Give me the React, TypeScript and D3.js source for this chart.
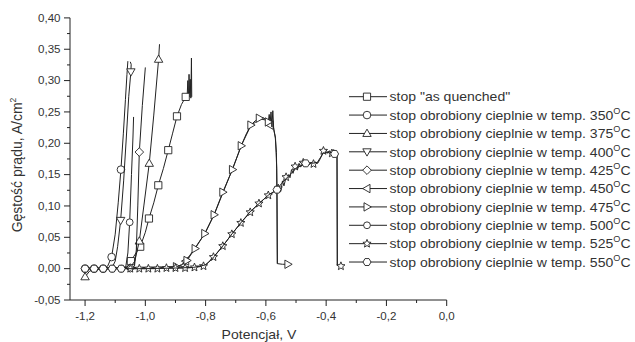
import React from 'react';
import * as d3 from 'd3';

type P = [number, number, number]; // potential (V), current (A/cm2), marker flag

const asQuenched: P[] = [
  [-1.2, 0, 0], [-1.14, 0, 0], [-1.08, 0.001, 0], [-1.06, 0.003, 0], [-1.048, 0.012, 1], [-1.035, 0.022, 0],
  [-1.017, 0.035, 1], [-1.0, 0.058, 0], [-0.988, 0.08, 1], [-0.972, 0.105, 0], [-0.957, 0.133, 1], [-0.94, 0.16, 0],
  [-0.924, 0.189, 1], [-0.91, 0.215, 0], [-0.895, 0.243, 1], [-0.88, 0.262, 0], [-0.866, 0.274, 1], [-0.861, 0.278, 0],
  [-0.859, 0.3, 0], [-0.857, 0.27, 0], [-0.855, 0.31, 0], [-0.853, 0.274, 0], [-0.851, 0.302, 0], [-0.849, 0.272, 0],
  [-0.847, 0.336, 0], [-0.846, 0.274, 0],
];
const t350: P[] = [
  [-1.2, 0, 1], [-1.17, 0, 1], [-1.14, 0, 1], [-1.125, 0.004, 0], [-1.112, 0.0185, 1], [-1.1, 0.055, 0],
  [-1.09, 0.105, 0], [-1.081, 0.158, 1], [-1.073, 0.215, 0], [-1.066, 0.27, 0], [-1.061, 0.31, 0], [-1.058, 0.331, 0],
];
const t375: P[] = [
  [-1.2, -0.013, 1], [-1.185, -0.004, 0], [-1.17, -0.001, 0], [-1.1, 0, 0], [-1.05, 0.002, 0], [-1.035, 0.012, 0],
  [-1.02, 0.044, 1], [-1.005, 0.1, 0], [-0.987, 0.168, 1], [-0.972, 0.245, 0], [-0.956, 0.334, 1], [-0.953, 0.358, 0],
];
const t400: P[] = [
  [-1.2, 0, 0], [-1.14, 0, 0], [-1.11, 0.002, 0], [-1.1, 0.012, 0], [-1.092, 0.035, 0], [-1.082, 0.077, 1],
  [-1.072, 0.14, 0], [-1.063, 0.21, 0], [-1.055, 0.275, 0], [-1.048, 0.314, 1], [-1.047, 0.326, 0], [-1.05, 0.33, 0],
];
const t425: P[] = [
  [-1.2, 0, 0], [-1.1, 0, 0], [-1.05, 0.001, 1], [-1.036, 0.004, 0], [-1.03, 0.03, 0], [-1.025, 0.1, 0],
  [-1.02, 0.186, 1], [-1.01, 0.26, 0], [-1.0, 0.321, 0],
];
const t450: P[] = [
  [-1.2, 0.001, 0], [-1.0, 0.002, 0], [-0.9, 0.003, 0], [-0.88, 0.006, 0], [-0.866, 0.012, 1], [-0.835, 0.033, 0],
  [-0.8, 0.058, 0], [-0.77, 0.088, 0], [-0.74, 0.124, 0], [-0.71, 0.16, 0], [-0.68, 0.198, 0], [-0.65, 0.228, 0],
  [-0.62, 0.239, 0], [-0.6, 0.237, 0], [-0.586, 0.229, 1], [-0.575, 0.226, 0], [-0.568, 0.208, 0], [-0.564, 0.16, 0],
  [-0.562, 0.008, 0],
];
const t475: P[] = [
  [-1.2, 0.001, 0], [-1.1, 0.001, 0], [-1.0, 0.002, 0], [-0.93, 0.002, 0], [-0.897, 0.003, 1], [-0.88, 0.006, 0],
  [-0.862, 0.013, 1], [-0.835, 0.032, 1], [-0.803, 0.056, 1], [-0.772, 0.086, 1], [-0.743, 0.122, 1], [-0.711, 0.158, 1],
  [-0.682, 0.196, 1], [-0.665, 0.215, 0], [-0.65, 0.229, 1], [-0.635, 0.236, 0], [-0.622, 0.24, 1], [-0.61, 0.241, 0],
  [-0.6, 0.238, 0], [-0.592, 0.234, 1], [-0.589, 0.246, 0], [-0.586, 0.232, 0], [-0.583, 0.25, 0], [-0.58, 0.226, 0],
  [-0.577, 0.252, 0], [-0.574, 0.222, 0], [-0.569, 0.21, 0], [-0.565, 0.185, 0], [-0.563, 0.12, 0], [-0.562, 0.008, 0],
  [-0.545, 0.007, 0], [-0.527, 0.007, 1],
];
const t500: P[] = [
  [-1.2, 0, 0], [-1.11, 0, 1], [-1.08, 0, 1], [-1.065, 0.003, 0], [-1.058, 0.025, 0], [-1.052, 0.074, 1],
  [-1.046, 0.15, 0], [-1.041, 0.21, 0], [-1.039, 0.242, 0],
];
const t525: P[] = [
  [-1.2, 0, 0], [-1.05, 0, 1], [-1.02, 0, 1], [-0.99, 0, 1], [-0.96, 0, 1], [-0.93, 0.001, 1], [-0.9, 0.001, 1],
  [-0.868, 0.001, 1], [-0.837, 0.002, 1], [-0.807, 0.004, 1], [-0.79, 0.01, 0], [-0.774, 0.0185, 1], [-0.743, 0.036, 1],
  [-0.713, 0.055, 1], [-0.683, 0.073, 1], [-0.652, 0.09, 1], [-0.623, 0.104, 1], [-0.592, 0.117, 1], [-0.575, 0.122, 0],
  [-0.559, 0.128, 1], [-0.55, 0.124, 0], [-0.545, 0.14, 0], [-0.54, 0.132, 0], [-0.533, 0.146, 1], [-0.525, 0.15, 0],
  [-0.52, 0.145, 0], [-0.515, 0.158, 0], [-0.51, 0.152, 0], [-0.503, 0.163, 1], [-0.495, 0.158, 0], [-0.49, 0.168, 0],
  [-0.485, 0.162, 0], [-0.476, 0.169, 1], [-0.47, 0.165, 0], [-0.462, 0.172, 0], [-0.455, 0.166, 0], [-0.448, 0.17, 0],
  [-0.442, 0.167, 1], [-0.435, 0.17, 0], [-0.428, 0.168, 0], [-0.42, 0.175, 0], [-0.415, 0.18, 0], [-0.409, 0.188, 1],
  [-0.4, 0.19, 0], [-0.395, 0.184, 0], [-0.39, 0.188, 0], [-0.381, 0.184, 1], [-0.375, 0.19, 0], [-0.37, 0.185, 0],
  [-0.366, 0.188, 0], [-0.364, 0.18, 0], [-0.363, 0.005, 0], [-0.351, 0.004, 1],
];
const t550: P[] = [
  [-1.2, 0, 1], [-1.17, 0, 1], [-1.14, 0, 1], [-1.11, 0, 1], [-1.08, 0, 1], [-1.0, 0, 0], [-0.9, 0.001, 0],
  [-0.84, 0.002, 0], [-0.8, 0.006, 0], [-0.77, 0.02, 0], [-0.74, 0.038, 0], [-0.71, 0.057, 0], [-0.68, 0.075, 0],
  [-0.65, 0.092, 0], [-0.62, 0.105, 0], [-0.59, 0.118, 0], [-0.563, 0.126, 1], [-0.548, 0.136, 0], [-0.52, 0.15, 0],
  [-0.5, 0.16, 0], [-0.468, 0.168, 1], [-0.45, 0.168, 0], [-0.43, 0.169, 0], [-0.41, 0.184, 0], [-0.39, 0.186, 0],
  [-0.372, 0.183, 1], [-0.364, 0.182, 0], [-0.363, 0.005, 0],
];

const seriesData: P[][] = [asQuenched, t350, t375, t400, t425, t450, t475, t500, t525, t550];
const seriesShapes = ['square', 'circle', 'triUp', 'triDown', 'diamond', 'triLeft', 'triRight', 'circleSmall', 'star', 'hexagon'];
const legendTemps = ['', '350', '375', '400', '425', '450', '475', '500', '525', '550'];

const xTicks = [-1.2, -1.0, -0.8, -0.6, -0.4, -0.2, 0.0];
const xMinor = [-1.1, -0.9, -0.7, -0.5, -0.3, -0.1];
const yTicks = [-0.05, 0.0, 0.05, 0.1, 0.15, 0.2, 0.25, 0.3, 0.35, 0.4];
const yMinor = [-0.025, 0.025, 0.075, 0.125, 0.175, 0.225, 0.275, 0.325, 0.375];

const FONT = '"Liberation Sans", Arial, Helvetica, sans-serif';
const INK = '#222';
const TXT = '#333';
const SX = 1.1;

function markerPath(shape: string): string {
  const p = d3.path();
  switch (shape) {
    case 'square':
      p.rect(-3.6, -3.6, 7.2, 7.2);
      break;
    case 'circle':
      p.arc(0, 0, 3.8, 0, 2 * Math.PI);
      break;
    case 'circleSmall':
      p.arc(0, 0, 3.4, 0, 2 * Math.PI);
      break;
    case 'triUp':
      p.moveTo(0, -4.3); p.lineTo(4.2, 3); p.lineTo(-4.2, 3); p.closePath();
      break;
    case 'triDown':
      p.moveTo(0, 4.3); p.lineTo(4.2, -3); p.lineTo(-4.2, -3); p.closePath();
      break;
    case 'triLeft':
      p.moveTo(-4.3, 0); p.lineTo(3, -4.2); p.lineTo(3, 4.2); p.closePath();
      break;
    case 'triRight':
      p.moveTo(4.3, 0); p.lineTo(-3, -4.2); p.lineTo(-3, 4.2); p.closePath();
      break;
    case 'diamond':
      p.moveTo(0, -4.3); p.lineTo(4.3, 0); p.lineTo(0, 4.3); p.lineTo(-4.3, 0); p.closePath();
      break;
    case 'hexagon':
      for (let i = 0; i < 6; i++) {
        const a = (Math.PI / 3) * i;
        const x = 4 * Math.cos(a), y = 4 * Math.sin(a);
        if (i === 0) p.moveTo(x, y); else p.lineTo(x, y);
      }
      p.closePath();
      break;
    case 'star':
      for (let i = 0; i < 10; i++) {
        const a = -Math.PI / 2 + (Math.PI / 5) * i;
        const r = i % 2 === 0 ? 4.3 : 1.9;
        const x = r * Math.cos(a), y = r * Math.sin(a);
        if (i === 0) p.moveTo(x, y); else p.lineTo(x, y);
      }
      p.closePath();
      break;
  }
  return p.toString();
}

const fmt = (v: number, d: number) => v.toFixed(d).replace('.', ',').replace('-0,00', '0,00');

export default function App() {
  const W = 635, H = 342;
  const x = d3.scaleLinear().domain([-1.25, 0]).range([70, 446.7]);
  const y = d3.scaleLinear().domain([-0.05, 0.4]).range([300, 17.9]);
  const line = d3.line<P>().x(d => x(d[0])).y(d => y(d[1]));

  const legendY0 = 96.7, legendStep = 18.37;

  return (
    <svg width={W} height={H} style={{ position: 'absolute', left: 0, top: 0, background: '#fff' }}
      fontFamily={FONT}>
      <rect width={W} height={H} fill="#fff" />
      {/* axes */}
      <line x1={70} x2={70} y1={y(0.4)} y2={300} stroke={INK} strokeWidth={1} />
      <line x1={70} x2={x(0)} y1={300} y2={300} stroke={INK} strokeWidth={1} />
      {yTicks.map(t => (
        <g key={'yt' + t}>
          <line x1={64} x2={70} y1={y(t)} y2={y(t)} stroke={INK} />
          <text transform={`translate(60.5,${y(t) + 3.7}) scale(${SX},1)`} textAnchor="end" fontSize={10.5} fill={TXT}>{fmt(t, 2)}</text>
        </g>
      ))}
      {yMinor.map(t => <line key={'ym' + t} x1={67} x2={70} y1={y(t)} y2={y(t)} stroke={INK} />)}
      {xTicks.map(t => (
        <g key={'xt' + t}>
          <line x1={x(t)} x2={x(t)} y1={300} y2={306} stroke={INK} />
          <text transform={`translate(${x(t)},319.5) scale(${SX},1)`} textAnchor="middle" fontSize={10.5} fill={TXT}>{fmt(t, 1)}</text>
        </g>
      ))}
      {xMinor.map(t => <line key={'xm' + t} x1={x(t)} x2={x(t)} y1={300} y2={303} stroke={INK} />)}
      {/* axis titles */}
      <text transform={`translate(259,339) scale(1.08,1)`} textAnchor="middle" fontSize={13} fill={TXT}>Potencjał, V</text>
      <text transform="translate(22,165) rotate(-90)" textAnchor="middle" fontSize={14} fill={TXT}>
        Gęstość prądu, A/cm<tspan fontSize={8.5} dy={-6}>2</tspan>
      </text>
      {/* series */}
      {seriesData.map((data, i) => (
        <g key={'s' + i}>
          <path d={line(data) || ''} fill="none" stroke={INK} strokeWidth={1} strokeLinejoin="round" />
          {data.filter(d => d[2] === 1).map((d, j) => (
            <path key={j} d={markerPath(seriesShapes[i])} transform={`translate(${x(d[0])},${y(d[1])})`}
              fill="#fff" stroke={INK} strokeWidth={0.9} />
          ))}
        </g>
      ))}
      {/* legend */}
      {legendTemps.map((t, i) => {
        const cy = legendY0 + i * legendStep;
        return (
          <g key={'lg' + i}>
            <line x1={349} x2={387} y1={cy} y2={cy} stroke={INK} />
            <path d={markerPath(seriesShapes[i])} transform={`translate(367,${cy})`} fill="#fff" stroke={INK} strokeWidth={0.9} />
            <text transform={`translate(389.5,${cy + 4.7}) scale(1.08,1)`} fontSize={13} fill={TXT}>
              {t === '' ? 'stop "as quenched"' : (
                <>
                  {`stop obrobiony cieplnie w temp. ${t}`}
                  <tspan fontSize={8.5} dy={-6}>O</tspan>
                  <tspan dy={6}>C</tspan>
                </>
              )}
            </text>
          </g>
        );
      })}
    </svg>
  );
}
